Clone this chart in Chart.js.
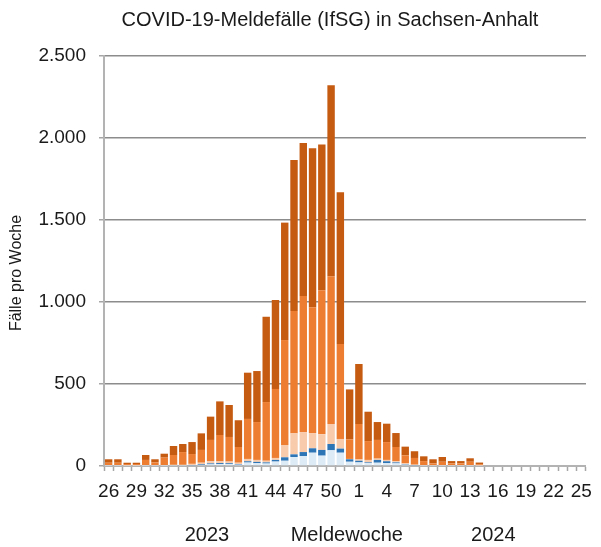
<!DOCTYPE html>
<html lang="de">
<head>
<meta charset="utf-8">
<title>COVID-19-Meldefälle (IfSG) in Sachsen-Anhalt</title>
<script src="https://cdn.jsdelivr.net/npm/chart.js@4/dist/chart.umd.min.js"></script>
<style>
    html, body { margin: 0; padding: 0; background: #fff; }
    .chart-wrap { position: relative; width: 601px; height: 547px; }
</style>
</head>
<body>
<div class="chart-wrap"><canvas id="chart"></canvas></div>
<script>
// ═══════════════════════════════════════════════════════
// Meldewochen 26/2023 – 25/2024
// ═══════════════════════════════════════════════════════

const weeks = [
    '26', '27', '28', '29', '30', '31', '32', '33', '34', '35', '36', '37', '38', '39',
    '40', '41', '42', '43', '44', '45', '46', '47', '48', '49', '50', '51', '52',
    '1', '2', '3', '4', '5', '6', '7', '8', '9', '10', '11', '12', '13',
    '14', '15', '16', '17', '18', '19', '20', '21', '22', '23', '24', '25'
];

// stacked from bottom to top
const seriesLightBlue = [
    1, 1, 1, 1, 1, 1, 1, 2, 2, 3, 6, 10, 11, 11, 8, 21, 17, 15, 27, 32, 55, 61, 81, 63, 96, 81, 26,
    22, 18, 20, 17, 16, 8, 3, 1, 1, 1, 1, 1, 1, 1, 0, 0, 0, 0, 0, 0, 0, 0, 0, 0, 0
];
const seriesBlue = [
    1, 1, 0, 0, 1, 1, 1, 1, 1, 2, 4, 6, 7, 6, 4, 8, 8, 7, 10, 21, 16, 24, 27, 35, 38, 25, 15,
    10, 4, 17, 12, 6, 3, 2, 1, 1, 1, 1, 1, 1, 0, 0, 0, 0, 0, 0, 0, 0, 0, 0, 0, 0
];
const seriesPeach = [
    3, 3, 2, 2, 3, 2, 3, 4, 4, 8, 10, 14, 10, 10, 8, 14, 12, 10, 12, 75, 128, 122, 93, 95, 122, 59, 2,
    8, 15, 8, 8, 8, 5, 3, 2, 1, 2, 1, 1, 2, 1, 0, 0, 0, 0, 0, 0, 0, 0, 0, 0, 0
];
const seriesOrange = [
    15, 15, 9, 9, 32, 18, 46, 60, 78, 60, 78, 129, 161, 150, 96, 244, 231, 358, 421, 640, 746, 830, 767, 878, 901, 579, 120,
    216, 115, 114, 109, 86, 49, 41, 26, 13, 22, 13, 13, 22, 9, 0, 0, 0, 0, 0, 0, 0, 0, 0, 0, 0
];
const seriesDark = [
    21, 21, 8, 8, 30, 19, 24, 55, 49, 73, 101, 142, 205, 195, 163, 282, 311, 520, 542, 716, 921, 933, 969, 890, 1164, 925, 304,
    366, 179, 109, 112, 85, 53, 41, 29, 25, 29, 14, 14, 21, 10, 0, 0, 0, 0, 0, 0, 0, 0, 0, 0, 0
];

const yTicks = [0, 500, 1000, 1500, 2000, 2500];

// captions under the week labels: [text, week index]
const bottomLabels = [['2023', 10.6], ['Meldewoche', 25.7], ['2024', 41.5]];

const FONT = 'Liberation Sans, Arial, sans-serif';
const TEXT = '#1a1a1a';

function fmtDe(n) {
    return String(n).replace(/\B(?=(\d{3})+(?!\d))/g, '.');
}

function makeDataset(data, color) {
    return {
        data,
        backgroundColor: color,
        borderWidth: 0,
        categoryPercentage: 0.8,
        barPercentage: 1.0,
    };
}

// Title, rotated y title and "2023  Meldewoche  2024"
const captions = {
    id: 'captions',
    afterDraw(chart) {
        const { ctx, scales: { x } } = chart;
        ctx.save();
        ctx.fillStyle = TEXT;
        ctx.textAlign = 'center';
        ctx.textBaseline = 'middle';

        ctx.font = '20px ' + FONT;
        ctx.fillText('COVID-19-Meldefälle (IfSG) in Sachsen-Anhalt', 330, 20);

        bottomLabels.forEach(([txt, idx]) => {
            ctx.fillText(txt, x.getPixelForValue(idx), 535);
        });

        ctx.font = '16px ' + FONT;
        ctx.translate(17, 273);
        ctx.rotate(-Math.PI / 2);
        ctx.fillText('Fälle pro Woche', 0, 0);
        ctx.restore();
    }
};

new Chart(document.getElementById('chart'), {
    type: 'bar',
    data: {
        labels: weeks,
        datasets: [
            makeDataset(seriesLightBlue, '#DDEBF7'),
            makeDataset(seriesBlue, '#2E75B6'),
            makeDataset(seriesPeach, '#F8CBAD'),
            makeDataset(seriesOrange, '#ED7D31'),
            makeDataset(seriesDark, '#C55A11'),
        ],
    },
    options: {
        responsive: true,
        maintainAspectRatio: false,
        animation: false,
        layout: { padding: { left: 0, right: 9, top: 56, bottom: 0 } },
        plugins: {
            legend: { display: false },
            tooltip: { enabled: false },
            title: { display: false },
        },
        scales: {
            x: {
                stacked: true,
                offset: true,
                grid: {
                    offset: true,
                    drawOnChartArea: false,
                    drawTicks: true,
                    tickLength: 5,
                    tickColor: '#a6a6a6',
                    tickWidth: 1.5,
                },
                border: { color: '#b3b3b3', width: 2 },
                ticks: {
                    autoSkip: false,
                    maxRotation: 0,
                    minRotation: 0,
                    padding: 9,
                    color: TEXT,
                    font: { family: FONT, size: 19 },
                    callback: (val, i) => (i % 3 === 0 ? weeks[i] : ''),
                },
                afterFit: s => { s.height = 81; },
            },
            y: {
                stacked: true,
                min: 0,
                max: 2500,
                afterBuildTicks: s => { s.ticks = yTicks.map(v => ({ value: v })); },
                grid: {
                    color: '#8c8c8c',
                    lineWidth: 1.5,
                    drawTicks: true,
                    tickLength: 5,
                    tickColor: '#a6a6a6',
                },
                border: { color: '#b3b3b3', width: 2 },
                ticks: {
                    padding: 13,
                    color: TEXT,
                    font: { family: FONT, size: 19 },
                    callback: v => fmtDe(v),
                },
                afterFit: s => { s.width = 104; },
            },
        },
    },
    plugins: [captions],
});
</script>
</body>
</html>
